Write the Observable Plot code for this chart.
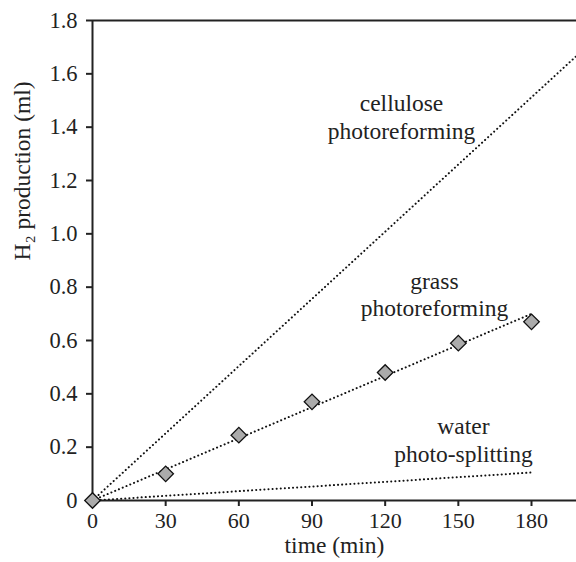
<!DOCTYPE html>
<html>
<head>
<meta charset="utf-8">
<script src="https://cdn.jsdelivr.net/npm/d3@7"></script>
<script src="https://cdn.jsdelivr.net/npm/@observablehq/plot@0.6"></script>
<style>
  html, body { margin: 0; padding: 0; background: #fff; }
  svg, svg text { font-family: "Liberation Serif", "Times New Roman", "DejaVu Serif", serif !important; }
</style>
</head>
<body>
<div id="chart"></div>
<script>
// Measured data: grass photoreforming (diamonds)
const times = [0, 30, 60, 90, 120, 150, 180];
const grassH2 = [0, 0.10, 0.245, 0.37, 0.48, 0.59, 0.67];

// Dotted trend lines (start / end points)
const grassFitX = [0, 180];
const grassFitY = [0, 0.70];
const waterFitX = [0, 180];
const waterFitY = [0, 0.105];
const celluloseFitX = [0, 200];
const celluloseFitY = [0, 1.68];

// Annotation labels
const labelText = ["cellulose\nphotoreforming", "grass\nphotoreforming", "water\nphoto-splitting"];
const labelX = [126.7, 140.2, 152.1];
const labelY = [1.44, 0.776, 0.232];

// Tick values
const xTicks = [0, 30, 60, 90, 120, 150, 180];
const yTicks = [0, 0.2, 0.4, 0.6, 0.8, 1.0, 1.2, 1.4, 1.6, 1.8];

const grass = times.map((t, i) => ({t, h: grassH2[i]}));
const fits = [
  ...grassFitX.map((t, i) => ({series: "grass", t, h: grassFitY[i]})),
  ...waterFitX.map((t, i) => ({series: "water", t, h: waterFitY[i]})),
  ...celluloseFitX.map((t, i) => ({series: "cellulose", t, h: celluloseFitY[i]}))
];
const labels = labelText.map((s, i) => ({s, x: labelX[i], y: labelY[i]}));

const ink = "#222";
const fs = 23.5;
const tfs = 22.5;
const chart = Plot.plot({
  width: 576,
  height: 562,
  marginLeft: 92,
  marginRight: 0,
  marginTop: 20,
  marginBottom: 62,
  style: {fontSize: fs + "px", color: ink, background: "#fff"},
  x: {domain: [0, 198.45]},
  y: {domain: [0, 1.8]},
  marks: [
    Plot.axisX({ticks: xTicks, tickSize: 6, tickPadding: 6, strokeWidth: 2, fontSize: 22, label: null, tickFormat: d => String(d)}),
    Plot.axisY({ticks: yTicks, tickSize: 6, tickPadding: 9, strokeWidth: 2, fontSize: tfs, label: null, tickFormat: d => d === 0 ? "0" : d.toFixed(1)}),
    Plot.ruleY([0], {stroke: ink, strokeWidth: 2}),
    Plot.ruleY([1.8], {stroke: ink, strokeWidth: 2}),
    Plot.ruleX([0], {stroke: ink, strokeWidth: 2}),
    Plot.line(fits, {x: "t", y: "h", z: "series", stroke: "#111", strokeWidth: 2, strokeDasharray: "0.1 4", strokeLinecap: "round", clip: true}),
    Plot.dot(grass, {x: "t", y: "h", symbol: "square", r: 6.2, rotate: 45, fill: "#ababab", stroke: "#111", strokeWidth: 1.3}),
    Plot.text(labels, {x: "x", y: "y", text: "s", fontSize: fs, lineHeight: 1.19, fill: ink}),
    Plot.text(["time (min)"], {frameAnchor: "bottom", dy: 52.5, fontSize: fs, fill: ink}),
    Plot.text(["H\u2082 production (ml)"], {frameAnchor: "left", dx: -70, rotate: -90, fontSize: fs, fill: ink})
  ]
});
document.getElementById("chart").appendChild(chart);
</script>
</body>
</html>
